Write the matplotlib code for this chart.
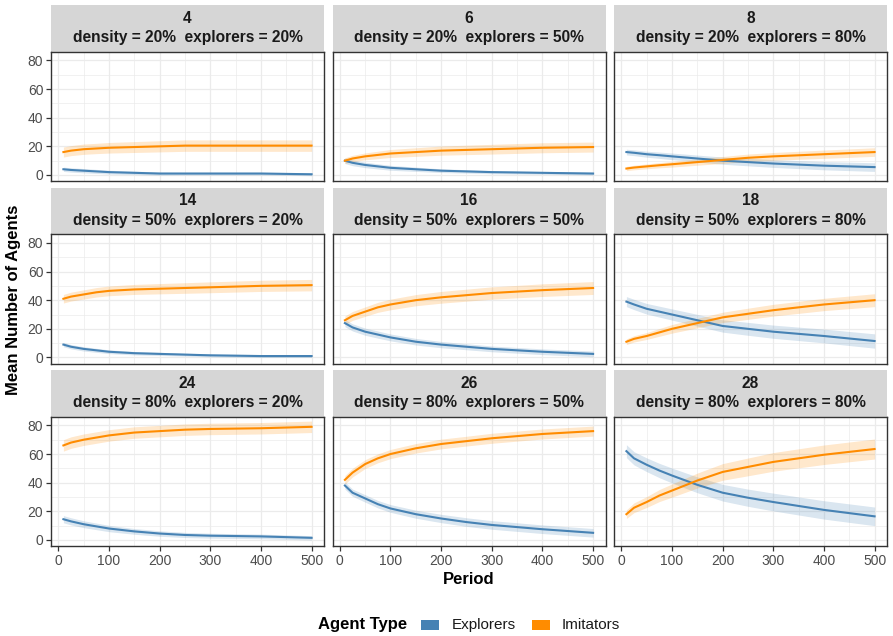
import matplotlib
matplotlib.use("Agg")
import matplotlib.pyplot as plt
from matplotlib.patches import Rectangle
from matplotlib.ticker import MultipleLocator

plt.rcParams['font.family'] = ['Liberation Sans', 'DejaVu Sans']

# ---------------- data ----------------
periods = [10, 25, 50, 75, 100, 150, 200, 250, 300, 400, 500]

panel_ids = [4, 6, 8, 14, 16, 18, 24, 26, 28]
densities = ["20%", "20%", "20%", "50%", "50%", "50%", "80%", "80%", "80%"]
explorer_shares = ["20%", "50%", "80%", "20%", "50%", "80%", "20%", "50%", "80%"]

exp_4 = [4, 3.5, 3, 2.5, 2, 1.5, 1, 1, 1, 1, 0.5]
imi_4 = [16, 17, 18, 18.5, 19, 19.5, 20, 20.5, 20.5, 20.5, 20.5]
exp_6 = [10, 8.5, 7, 6, 5, 4, 3, 2.5, 2, 1.5, 1]
imi_6 = [10, 11.5, 13, 14, 15, 16, 17, 17.5, 18, 19, 19.5]
exp_8 = [16, 15.5, 14.5, 13.8, 13, 11.5, 10, 9, 8, 6.5, 5.5]
imi_8 = [4.5, 5.2, 6, 6.8, 7.5, 9, 10.5, 12, 13, 14.5, 16]
exp_14 = [9, 7.5, 6, 5, 4, 3, 2.5, 2, 1.5, 1, 1]
imi_14 = [41, 42.5, 44, 45.5, 46.5, 47.5, 48, 48.5, 49, 50, 50.5]
exp_16 = [24, 21, 18, 16, 14, 11, 9, 7.5, 6, 4, 2.5]
imi_16 = [26, 29, 32, 35, 37, 40, 42, 43.5, 45, 47, 48.5]
exp_18 = [39, 37, 34, 32, 30, 26, 22, 20, 18, 15, 11.5]
imi_18 = [11, 13, 15, 17.5, 20, 24, 28, 30.5, 33, 37, 40]
exp_24 = [14.5, 13, 11, 9.5, 8, 6, 4.5, 3.5, 3, 2.5, 1.5]
imi_24 = [66, 68, 70, 71.5, 73, 75, 76, 77, 77.5, 78, 79]
exp_26 = [38, 33, 29, 25, 22, 18, 15, 12.5, 10.5, 7.5, 5]
imi_26 = [42, 47, 53, 57, 60, 64, 67, 69, 71, 74, 76]
exp_28 = [62, 57, 52.5, 48.5, 45, 38.5, 33, 29.5, 26.5, 21, 16.5]
imi_28 = [18, 22.5, 26.5, 31, 34.5, 41.5, 47.5, 51, 54.5, 59.5, 63.5]

# ribbon half-widths
exp_4_hw = [1.5, 1.5, 1.5, 1.4, 1.3, 1.2, 1.1, 1, 1, 1, 1]
imi_4_hw = [3.5, 3.5, 3.6, 3.6, 3.7, 3.8, 3.9, 4, 4, 4, 4]
exp_6_hw = [2, 2, 1.9, 1.8, 1.7, 1.5, 1.3, 1.2, 1.1, 1, 1]
imi_6_hw = [2, 2.2, 2.4, 2.6, 2.8, 3, 3.2, 3.3, 3.4, 3.5, 3.5]
exp_8_hw = [2, 2, 2.1, 2.2, 2.3, 2.4, 2.5, 2.6, 2.7, 2.9, 3]
imi_8_hw = [1.5, 1.6, 1.7, 1.8, 2, 2.2, 2.4, 2.6, 2.7, 2.9, 3]
exp_14_hw = [1.5, 1.5, 1.5, 1.4, 1.3, 1.2, 1.1, 1, 1, 1, 1]
imi_14_hw = [3, 3.1, 3.2, 3.3, 3.4, 3.5, 3.6, 3.7, 3.8, 3.9, 4]
exp_16_hw = [2.5, 2.5, 2.5, 2.5, 2.4, 2.3, 2.2, 2.1, 2, 2, 2]
imi_16_hw = [3, 3.1, 3.3, 3.5, 3.7, 3.9, 4.1, 4.2, 4.3, 4.4, 4.5]
exp_18_hw = [3.5, 3.6, 3.7, 3.8, 3.9, 4.1, 4.3, 4.5, 4.6, 4.8, 5]
imi_18_hw = [2, 2.2, 2.4, 2.7, 3, 3.3, 3.6, 3.9, 4.1, 4.3, 4.5]
exp_24_hw = [2.5, 2.5, 2.4, 2.3, 2.2, 2, 1.9, 1.8, 1.7, 1.6, 1.5]
imi_24_hw = [4, 4, 4, 4, 4, 4, 4, 4, 4, 4, 4]
exp_26_hw = [2.5, 2.5, 2.6, 2.6, 2.7, 2.8, 2.9, 3, 3, 3, 3]
imi_26_hw = [3, 3, 3.1, 3.1, 3.2, 3.3, 3.4, 3.4, 3.5, 3.5, 3.5]
exp_28_hw = [4.5, 4.6, 4.8, 5, 5.2, 5.5, 5.8, 6, 6.2, 6.4, 6.5]
imi_28_hw = [3, 3.4, 3.8, 4.2, 4.6, 5.2, 5.8, 6.2, 6.5, 6.8, 7]

explorers = [exp_4, exp_6, exp_8, exp_14, exp_16, exp_18, exp_24, exp_26, exp_28]
imitators = [imi_4, imi_6, imi_8, imi_14, imi_16, imi_18, imi_24, imi_26, imi_28]
explorers_hw = [exp_4_hw, exp_6_hw, exp_8_hw, exp_14_hw, exp_16_hw, exp_18_hw, exp_24_hw, exp_26_hw, exp_28_hw]
imitators_hw = [imi_4_hw, imi_6_hw, imi_8_hw, imi_14_hw, imi_16_hw, imi_18_hw, imi_24_hw, imi_26_hw, imi_28_hw]

x_ticks = [0, 100, 200, 300, 400, 500]
y_ticks = [0, 20, 40, 60, 80]
legend_labels = ["Explorers", "Imitators"]

# ---------------- style ----------------
C_EXP = "#4682B4"
C_IMI = "#FF8C00"
STRIP = "#D6D6D6"
GRID = "#EBEBEB"
BORDER = "#333333"
TICKTXT = "#4D4D4D"

W, H = 893, 636
fig = plt.figure(figsize=(W / 100, H / 100), dpi=100)
fig.patch.set_facecolor("white")

col_left = [51, 332.5, 614]
col_w = 273
row_top = [5, 187.5, 370]
strip_h = 46.5
panel_h = 129.5


def fx(px):
    return px / W


def fy(py):
    return 1 - py / H


for i in range(9):
    r, c = divmod(i, 3)
    x0 = col_left[c]
    st = row_top[r]
    pt = st + strip_h
    # strip
    sax = fig.add_axes([fx(x0), fy(pt), col_w / W, strip_h / H])
    sax.set_facecolor(STRIP)
    for s in sax.spines.values():
        s.set_visible(False)
    sax.set_xticks([])
    sax.set_yticks([])
    sax.text(0.5, 0.71, str(panel_ids[i]), ha="center", va="center",
             fontsize=11.2, fontweight="bold", color="#1A1A1A", transform=sax.transAxes)
    sax.text(0.5, 0.30, f"density = {densities[i]}  explorers = {explorer_shares[i]}",
             ha="center", va="center", fontsize=11.2, fontweight="bold",
             color="#1A1A1A", transform=sax.transAxes)

    ax = fig.add_axes([fx(x0), fy(pt + panel_h), col_w / W, panel_h / H])
    ax.set_facecolor("white")
    ax.set_xlim(-14.5, 524.5)
    ax.set_ylim(-4.2, 86.2)
    ax.xaxis.set_major_locator(MultipleLocator(100))
    ax.xaxis.set_minor_locator(MultipleLocator(50))
    ax.yaxis.set_major_locator(MultipleLocator(20))
    ax.yaxis.set_minor_locator(MultipleLocator(10))
    ax.grid(True, which="major", color=GRID, lw=0.9)
    ax.grid(True, which="minor", color=GRID, lw=0.5)
    ax.set_axisbelow(True)
    for s in ax.spines.values():
        s.set_color(BORDER)
        s.set_linewidth(1.0)

    e = explorers[i]
    m = imitators[i]
    ehw = explorers_hw[i]
    mhw = imitators_hw[i]
    ax.fill_between(periods, [a - b for a, b in zip(e, ehw)], [a + b for a, b in zip(e, ehw)],
                    color=C_EXP, alpha=0.2, lw=0)
    ax.fill_between(periods, [a - b for a, b in zip(m, mhw)], [a + b for a, b in zip(m, mhw)],
                    color=C_IMI, alpha=0.2, lw=0)
    ax.plot(periods, e, color=C_EXP, lw=1.5)
    ax.plot(periods, m, color=C_IMI, lw=1.5)

    ax.tick_params(which="minor", length=0)
    ax.tick_params(which="major", color=BORDER, length=3.5, width=0.9,
                   labelsize=10, labelcolor=TICKTXT, pad=2)
    ax.set_xticks(x_ticks)
    ax.set_yticks(y_ticks)
    if c != 0:
        ax.tick_params(axis="y", left=False, labelleft=False)
    if r != 2:
        ax.tick_params(axis="x", bottom=False, labelbottom=False)

# axis titles
fig.text(fx(14), fy(300), "Mean Number of Agents", rotation=90, ha="center", va="center",
         fontsize=12, fontweight="bold", color="black")
fig.text(fx(469), fy(579), "Period", ha="center", va="center",
         fontsize=12, fontweight="bold", color="black")

# legend
ly = 625
fig.text(fx(318), fy(ly), "Agent Type", ha="left", va="center",
         fontsize=12, fontweight="bold", color="black")
key_x = [421, 532]
text_x = [452, 562]
for kx, tx, col, lab in zip(key_x, text_x, [C_EXP, C_IMI], legend_labels):
    fig.patches.append(Rectangle((fx(kx), fy(ly + 5)), 18 / W, 10 / H,
                                 transform=fig.transFigure, facecolor=col,
                                 edgecolor="none"))
    fig.text(fx(tx), fy(ly), lab, ha="left", va="center", fontsize=11, color="#1A1A1A")

fig.savefig("out.png", dpi=100, facecolor="white")
